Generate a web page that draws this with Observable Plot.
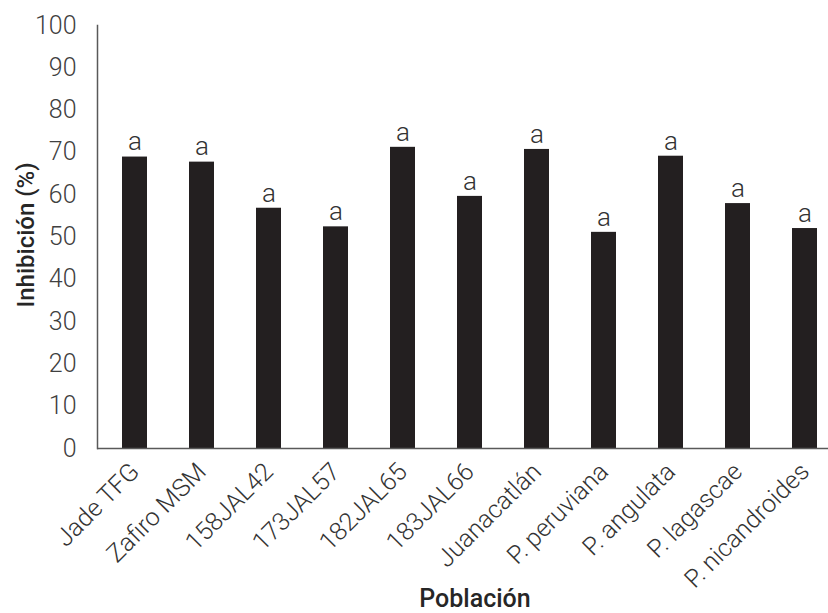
<!DOCTYPE html>
<html>
<head>
<meta charset="utf-8">
<script src="https://cdn.jsdelivr.net/npm/d3@7"></script>
<script src="https://cdn.jsdelivr.net/npm/@observablehq/plot@0.6"></script>
<style>
  html, body { margin: 0; padding: 0; background: #fff; }
  #chart { width: 828px; height: 613px; }
</style>
</head>
<body>
<div id="chart"></div>
<script>
const categories = ["Jade TFG", "Zafiro MSM", "158JAL42", "173JAL57", "182JAL65", "183JAL66", "Juanacatlán", "P. peruviana", "P. angulata", "P. lagascae", "P. nicandroides"];
const inhibition = [68.9, 67.7, 56.8, 52.4, 71.2, 59.6, 70.7, 51.1, 69.1, 57.9, 52.0];
const letters = ["a", "a", "a", "a", "a", "a", "a", "a", "a", "a", "a"];
const yTicks = [0, 10, 20, 30, 40, 50, 60, 70, 80, 90, 100];
const xTitle = "Población";
const yTitle = "Inhibición (%)";

const data = categories.map((c, i) => ({ category: c, value: inhibition[i], letter: letters[i] }));
const lightFont = "'Roboto Light', Roboto, sans-serif";

const chart = Plot.plot({
  width: 828,
  height: 613,
  marginTop: 25,
  marginBottom: 165,
  marginLeft: 97,
  marginRight: 0,
  style: { fontFamily: "Roboto", background: "#fff", overflow: "visible" },
  x: { domain: categories, range: [97, 841], paddingInner: 0.63, paddingOuter: 0.315, label: null },
  y: { domain: [0, 100], label: null },
  marks: [
    Plot.barY(data, { x: "category", y: "value", fill: "#231f20" }),
    Plot.text(data, { x: "category", y: "value", text: "letter", dy: -15, fontSize: 26, fontWeight: 300, fontFamily: lightFont, fill: "#333333" }),
    Plot.axisY({ ticks: yTicks, tickSize: 0, tickPadding: 21, fontSize: 25, fontWeight: 300, fontFamily: lightFont, color: "#404040", label: null }),
    Plot.axisX({ tickSize: 0, tickPadding: 19, tickRotate: -45, fontSize: 25, fontWeight: 300, fontFamily: lightFont, color: "#333333", label: null }),
    Plot.ruleY([0], { stroke: "#595959", strokeWidth: 1.5 }),
    Plot.frame({ anchor: "left", stroke: "#595959", strokeWidth: 1.5 }),
    Plot.text([xTitle], { frameAnchor: "bottom", textAnchor: "middle", lineAnchor: "bottom", dy: 158, dx: 12, fontSize: 25, fontWeight: 500, fill: "#262626" }),
    Plot.text([yTitle], { frameAnchor: "left", textAnchor: "middle", lineAnchor: "middle", rotate: -90, dx: -71, dy: -2, fontSize: 24, fontWeight: 500, fill: "#262626" })
  ]
});
document.getElementById("chart").appendChild(chart);
</script>
</body>
</html>
